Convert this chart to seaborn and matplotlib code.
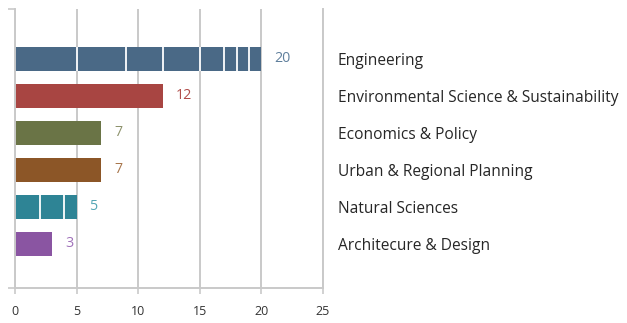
import matplotlib
matplotlib.use("Agg")
import matplotlib.pyplot as plt
import seaborn as sns
import numpy as np
import pandas as pd

categories = ["Engineering", "Environmental Science & Sustainability", "Economics & Policy",
              "Urban & Regional Planning", "Natural Sciences", "Architecure & Design"]
totals = [20, 12, 7, 7, 5, 3]
segments = [[5, 4, 3, 3, 2, 1, 1, 1], [12], [7], [7], [2, 2, 1], [3]]
bar_colors = ["#4a6986", "#a84542", "#6a7446", "#8c5627", "#2e8495", "#8a55a2"]
label_colors = ["#5f7f9c", "#b04d4a", "#8d926c", "#a8764c", "#54a6b5", "#a072ba"]
xticks = [0, 5, 10, 15, 20, 25]

sns.set_theme(style="white")
plt.rcParams["font.family"] = ["Open Sans", "DejaVu Sans"]

fig = plt.figure(figsize=(6.27, 3.23), dpi=100)
ax = fig.add_axes([15/627, 1-288/323, (323-15)/627, (288-9)/323])

df = pd.DataFrame({"cat": categories, "val": totals})
sns.barplot(data=df, x="val", y="cat", hue="cat", palette=bar_colors, orient="h",
            width=0.65, legend=False, ax=ax, saturation=1, edgecolor="none")

# white dividers within segmented bars
h = 0.65
for i, segs in enumerate(segments):
    bounds = np.cumsum(segs)[:-1]
    if len(bounds):
        ax.vlines(bounds, i - h/2, i + h/2, color="white", lw=1.3, zorder=5)

# value labels
for i, v in enumerate(totals):
    ax.text(v + 1.05, i, str(v), va="center", ha="left", fontsize=10.3,
            color=label_colors[i])

ax.set_xlim(0, 25)
ax.set_ylim(6.19, -1.35)
ax.set_xticks(xticks)
ax.set_xticklabels([str(t) for t in xticks])
ax.set_xlabel("")
ax.set_ylabel("")
ax.set_axisbelow(True)
ax.grid(axis="x", color="#c9c9c9", lw=1.4)
ax.grid(axis="y", visible=False)

for s in ["left", "bottom", "right"]:
    ax.spines[s].set_visible(True)
    ax.spines[s].set_color("#c9c9c9")
    ax.spines[s].set_linewidth(1.4)
ax.spines["top"].set_visible(False)

ax.tick_params(axis="x", which="major", bottom=True, length=4, width=1.2,
               color="#c9c9c9", labelsize=9, labelcolor="#333333", pad=8)
ax.yaxis.set_ticks_position("right")
ax.tick_params(axis="y", which="major", left=False, right=False, length=0,
               labelleft=False, labelright=True, labelsize=11.2, labelcolor="#262626", pad=10.5)
ax.set_yticks(range(len(categories)))
ax.set_yticklabels(categories)
ax.set_yticks([-1.35, 6.19], minor=True)
ax.tick_params(axis="y", which="minor", left=True, right=False, length=5, width=1.2,
               color="#c9c9c9")

fig.savefig("out.png", dpi=100)
